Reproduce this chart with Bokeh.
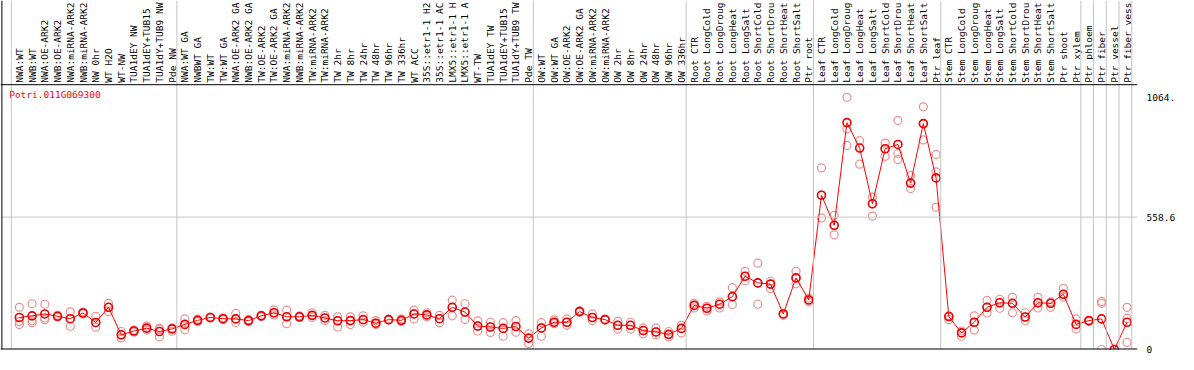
import math
from bokeh.plotting import figure
from bokeh.models import Range1d, Span, LinearAxis, FixedTicker, Label, ColumnDataSource
from bokeh.core.properties import value
from bokeh.embed import file_html
from bokeh.resources import INLINE

gene = "Potri.011G069300"

samples = [
    "NWA:WT", "NWB:WT", "NWA:OE-ARK2", "NWB:OE-ARK2", "NWA:miRNA-ARK2", "NWB:miRNA-ARK2",
    "NW 0hr", "WT H2O", "WT-NW", "TUA1dEY NW", "TUA1dEY+TUB15 NW", "TUA1dY+TUB9 NW", "Pde NW",
    "NWA:WT GA", "NWBWT GA", "TW:WT", "TW:WT GA", "NWA:OE-ARK2 GA", "NWB:OE-ARK2 GA",
    "TW:OE-ARK2", "TW:OE-ARK2 GA", "NWA:miRNA-ARK2", "NWB:miRNA-ARK2", "TW:miRNA-ARK2",
    "TW:miRNA-ARK2", "TW 2hr", "TW 8hr", "TW 24hr", "TW 48hr", "TW 96hr", "TW 336hr", "WT ACC",
    "35S::etr1-1 H2O", "35S::etr1-1 ACC", "LMX5::etr1-1 H2O", "LMX5::etr1-1 ACC", "WT-TW",
    "TUA1dEY TW", "TUA1dEY+TUB15 TW", "TUA1dY+TUB9 TW", "Pde TW",
    "OW:WT", "OW:WT GA", "OW:OE-ARK2", "OW:OE-ARK2 GA", "OW:miRNA-ARK2", "OW:miRNA-ARK2",
    "OW 2hr", "OW 8hr", "OW 24hr", "OW 48hr", "OW 96hr", "OW 336hr",
    "Root CTR", "Root LongCold", "Root LongDrought", "Root LongHeat", "Root LongSalt",
    "Root ShortCold", "Root ShortDrought", "Root ShortHeat", "Root ShortSalt", "Ptr root",
    "Leaf CTR", "Leaf LongCold", "Leaf LongDrought", "Leaf LongHeat", "Leaf LongSalt",
    "Leaf ShortCold", "Leaf ShortDrought", "Leaf ShortHeat", "Leaf ShortSalt", "Ptr leaf",
    "Stem CTR", "Stem LongCold", "Stem LongDrought", "Stem LongHeat", "Stem LongSalt",
    "Stem ShortCold", "Stem ShortDrought", "Stem ShortHeat", "Stem ShortSalt", "Ptr shoot",
    "Ptr xylem", "Ptr phloem", "Ptr fiber", "Ptr vessel", "Ptr fiber vessel",
]
# the reference header shows only the first 14 characters of each sample name
label_chars = 14

group_sizes = [13, 28, 12, 10, 10, 11, 1, 1, 1, 1]

mean_expr = [
    135, 142, 150, 140, 130, 154, 114, 178, 62, 78, 90, 76, 87,
    106, 123, 135, 130, 129, 122, 142, 155, 138, 138, 144, 133, 121, 122, 126, 111, 126, 123,
    150, 146, 130, 178, 158, 99, 95, 89, 97, 48,
    91, 115, 115, 160, 135, 126, 102, 102, 80, 74, 64, 89,
    186, 174, 191, 223, 309, 281, 276, 150, 302, 209,
    651, 524, 957, 850, 615, 847, 865, 702, 953, 724,
    139, 70, 115, 178, 197, 195, 137, 197, 195, 233, 106,
    122, 129, 0, 115,
]
rep_a = [
    178, 193, 191, 144, 159, 154, 140, 195, 76, 82, 99, 89, 91,
    129, 128, 137, 134, 152, 126, 144, 167, 166, 142, 155, 144, 138, 138, 142, 122, 128, 129,
    166, 155, 144, 208, 193, 121, 115, 113, 122, 66,
    113, 125, 129, 164, 150, 128, 119, 115, 91, 91, 76, 102,
    195, 182, 201, 261, 330, 364, 288, 150, 330, 217,
    766, 566, 1064, 881, 643, 871, 966, 734, 1024, 823,
    126, 78, 142, 207, 212, 220, 155, 220, 201, 258, 129,
    122, 203, 0, 178,
]
rep_b = [
    118, 122, 126, 137, 98, 158, 94, 160, 49, 73, 82, 53, 77,
    83, 118, 133, 126, 114, 118, 139, 146, 109, 135, 135, 122, 95, 105, 115, 105, 124, 118,
    129, 138, 113, 142, 127, 78, 72, 56, 73, 25,
    56, 109, 102, 158, 122, 124, 86, 86, 66, 62, 53, 70,
    175, 162, 175, 190, 290, 191, 257, 145, 277, 201,
    555, 484, 861, 782, 563, 815, 827, 679, 884, 749,
    142, 56, 82, 154, 174, 155, 122, 175, 178, 221, 86,
    119, 195, 0, 131,
]
rep_c = [
    106, 113, 133, 140, 129, 150, 113, 178, 62, 78, 90, 86, 87,
    106, 123, 135, 130, 129, 122, 142, 155, 138, 135, 144, 133, 121, 122, 126, 111, 126, 123,
    150, 146, 130, 178, 158, 99, 95, 89, 97, 48,
    91, 115, 115, 160, 135, 126, 102, 102, 80, 74, 64, 89,
    186, 174, 191, 223, 309, 281, 276, 152, 302, 209,
    651, 524, 930, 850, 615, 847, 802, 702, 953, 600,
    139, 70, 115, 178, 197, 195, 137, 197, 195, 233, 106,
    122, 0, 0, 30,
]

y_ticks = [0, 558.6, 1064]
y_tick_labels = ["0", "558.6", "1064."]
data_top = 1117.2

MONO = value("DejaVu Sans Mono")
FS = "9.5px"

W, H = 1178, 354
bottom_border = 5
frame_h = H - bottom_border
top_px = 84.2
units_per_px = data_top / (frame_h - top_px)
y_end = frame_h * units_per_px

p = figure(width=W, height=H, output_backend="svg", toolbar_location=None,
           x_range=Range1d(-1.48, 87.82), y_range=Range1d(0, y_end),
           x_axis_location=None, y_axis_location=None,
           min_border_left=0, min_border_top=0, min_border_right=0,
           min_border_bottom=bottom_border,
           background_fill_color="white", border_fill_color="white")
p.outline_line_color = None
p.xgrid.visible = False
p.ygrid.visible = False

xs = list(range(len(samples)))

# horizontal mid gridline
p.add_layout(Span(location=y_ticks[1], dimension="width", line_color="#c4c4c4", line_width=1))

# group separators
seps = [-1 + 0.37]
acc = 0
for g in group_sizes:
    acc += g
    seps.append(acc - 1 + 0.37)
for s in seps:
    p.add_layout(Span(location=s, dimension="height", line_color="#c4c4c4", line_width=1))

# frame lines
p.add_layout(Span(location=data_top, dimension="width", line_color="black", line_width=1))
p.add_layout(Span(location=0, dimension="width", line_color="black", line_width=2))
p.add_layout(Span(location=-1.37, dimension="height", line_color="black", line_width=1))

src = ColumnDataSource(dict(x=xs, m=mean_expr, a=rep_a, b=rep_b, c=rep_c,
                            lab=[s[:label_chars] for s in samples],
                            ly=[data_top] * len(xs)))

for col in ["a", "b", "c"]:
    p.scatter("x", col, source=src, marker="circle", size=8, fill_color=None,
              line_color="#e99191", line_width=1.2)

p.line("x", "m", source=src, line_color="#ff0000", line_width=1)
p.scatter("x", "m", source=src, marker="circle", size=8, fill_color=None,
          line_color="#ee0000", line_width=1.6)

p.text("x", "ly", text="lab", source=src, angle=math.pi / 2, text_align="left",
       text_baseline="middle", y_offset=-2, text_font=MONO, text_font_size=FS,
       text_color="black")

p.add_layout(Label(x=-0.8, y=1100, text=gene, text_color="#ff0000", text_font="DejaVu Sans Mono",
                   text_font_size=FS, text_baseline="top", text_align="left"))

yaxis = LinearAxis(ticker=FixedTicker(ticks=y_ticks),
                   major_label_overrides={t: l for t, l in zip(y_ticks, y_tick_labels)},
                   axis_line_color=None, major_tick_line_color=None, minor_tick_line_color=None,
                   major_label_standoff=3, major_label_text_font="DejaVu Sans Mono",
                   major_label_text_font_size=FS, major_label_text_color="black")
p.add_layout(yaxis, "right")

open("out.html", "w").write(file_html(p, INLINE))
